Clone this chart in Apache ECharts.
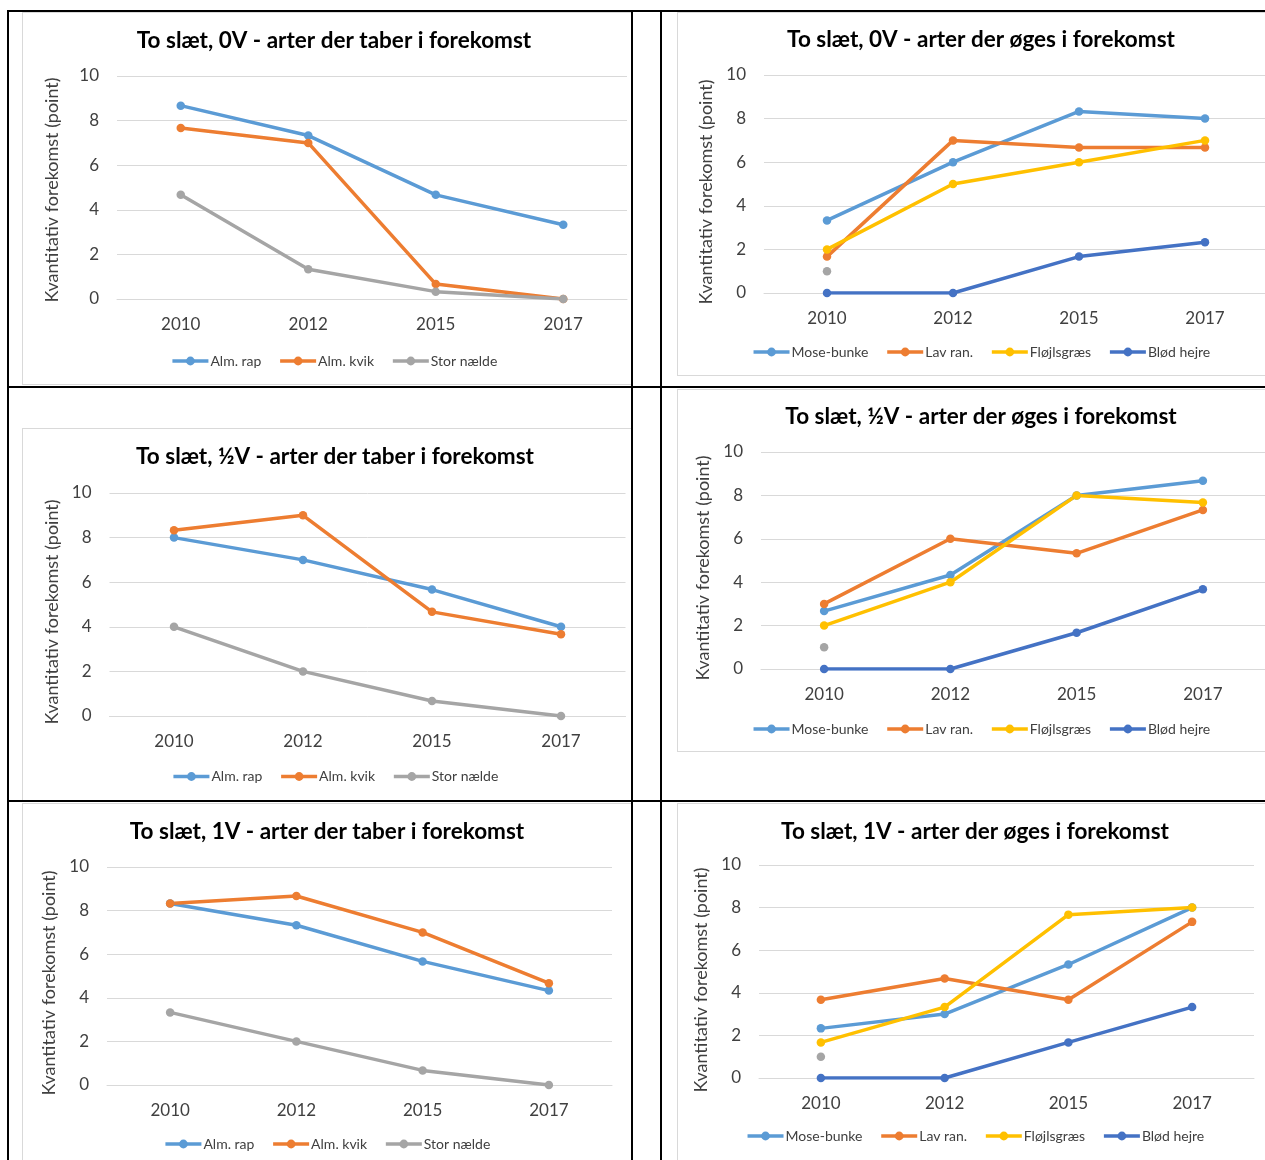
<!DOCTYPE html>
<html>
<head>
<meta charset="utf-8">
<script src="https://cdn.jsdelivr.net/npm/echarts@6/dist/echarts.min.js"></script>
<style>
  html, body { margin: 0; padding: 0; background: #fff; overflow: hidden; }
  #root { position: relative; width: 1265px; height: 1160px; overflow: hidden; background: #fff; }
  .box { position: absolute; border: 1px solid #D9D9D9; box-sizing: border-box; background: #fff; }
  .ln { position: absolute; background: #000; }
  .chart { position: absolute; }
</style>
</head>
<body>
<div id="root"></div>
<script>
// ---------- DATA ----------
const years = ['2010', '2012', '2015', '2017'];
const yMin = 0, yMax = 10, yStep = 2;

const loseNames = ['Alm. rap', 'Alm. kvik', 'Stor nælde'];
const gainNames = ['Mose-bunke', 'Lav ran.', 'Fløjlsgræs', 'Blød hejre'];
const strayName = 'Stor nælde';

const titles = [
  'To slæt, 0V - arter der taber i forekomst',
  'To slæt, 0V - arter der øges i forekomst',
  'To slæt, ½V - arter der taber i forekomst',
  'To slæt, ½V - arter der øges i forekomst',
  'To slæt, 1V - arter der taber i forekomst',
  'To slæt, 1V - arter der øges i forekomst'
];
const yAxisName = 'Kvantitativ forekomst (point)';

// 0V - taber
const v0_almRap    = [8.67, 7.33, 4.67, 3.33];
const v0_almKvik   = [7.67, 7.0, 0.67, 0];
const v0_storNaelde = [4.67, 1.33, 0.33, 0];
// 0V - øges
const v0_moseBunke = [3.33, 6.0, 8.33, 8.0];
const v0_lavRan    = [1.67, 7.0, 6.67, 6.67];
const v0_stray     = [1, null, null, null];
const v0_floejl    = [2.0, 5.0, 6.0, 7.0];
const v0_bloedHejre = [0, 0, 1.67, 2.33];

// ½V - taber
const vh_almRap    = [8.0, 7.0, 5.67, 4.0];
const vh_almKvik   = [8.33, 9.0, 4.67, 3.67];
const vh_storNaelde = [4.0, 2.0, 0.67, 0];
// ½V - øges
const vh_moseBunke = [2.67, 4.33, 8.0, 8.67];
const vh_lavRan    = [3.0, 6.0, 5.33, 7.33];
const vh_stray     = [1, null, null, null];
const vh_floejl    = [2.0, 4.0, 8.0, 7.67];
const vh_bloedHejre = [0, 0, 1.67, 3.67];

// 1V - taber
const v1_almRap    = [8.33, 7.33, 5.67, 4.33];
const v1_almKvik   = [8.33, 8.67, 7.0, 4.67];
const v1_storNaelde = [3.33, 2.0, 0.67, 0];
// 1V - øges
const v1_moseBunke = [2.33, 3.0, 5.33, 8.0];
const v1_lavRan    = [3.67, 4.67, 3.67, 7.33];
const v1_stray     = [1, null, null, null];
const v1_floejl    = [1.67, 3.33, 7.67, 8.0];
const v1_bloedHejre = [0, 0, 1.67, 3.33];

// ---------- STYLE / LAYOUT ----------
const C = { blue: '#5B9BD5', orange: '#ED7D31', gray: '#A5A5A5', yellow: '#FFC000', dblue: '#4472C4' };
const FONT = 'Lato, "Open Sans", sans-serif';

function loseSeries(a, b, c) {
  return [
    { name: loseNames[0], data: a, color: C.blue },
    { name: loseNames[1], data: b, color: C.orange },
    { name: loseNames[2], data: c, color: C.gray }
  ];
}
function gainSeries(a, b, s, c, d) {
  return [
    { name: gainNames[0], data: a, color: C.blue },
    { name: gainNames[1], data: b, color: C.orange },
    { name: strayName, data: s, color: C.gray },
    { name: gainNames[2], data: c, color: C.yellow },
    { name: gainNames[3], data: d, color: C.dblue }
  ];
}

const panels = [
  { title: titles[0], legend: loseNames, series: loseSeries(v0_almRap, v0_almKvik, v0_storNaelde),
    box: [22, 12, 610, 373], pos: [22, 12, 624, 373], grid: [95, 64, 510, 223], gap: 56, shift: 2.5, titleTop: 15, legendTop: 342 },
  { title: titles[1], legend: gainNames, series: gainSeries(v0_moseBunke, v0_lavRan, v0_stray, v0_floejl, v0_bloedHejre),
    box: [677, 12, 620, 364], pos: [677, 12, 608, 364], grid: [87, 63, 504, 218], gap: 46, shift: 8, titleTop: 14, legendTop: 333 },
  { title: titles[2], legend: loseNames, series: loseSeries(vh_almRap, vh_almKvik, vh_storNaelde),
    box: [22, 428, 610, 373], pos: [22, 428, 626, 373], grid: [87.5, 65, 516, 223], gap: 43, shift: 7.5, titleTop: 15, legendTop: 341.5 },
  { title: titles[3], legend: gainNames, series: gainSeries(vh_moseBunke, vh_lavRan, vh_stray, vh_floejl, vh_bloedHejre),
    box: [677, 389, 620, 363], pos: [677, 389, 608, 363], grid: [84, 63, 505, 217], gap: 42, shift: 7.5, titleTop: 14, legendTop: 333 },
  { title: titles[4], legend: loseNames, series: loseSeries(v1_almRap, v1_almKvik, v1_storNaelde),
    box: [22, 803, 610, 380], pos: [22, 803, 610, 357], grid: [85, 64, 505, 218], gap: 42, shift: 7, titleTop: 15, legendTop: 334 },
  { title: titles[5], legend: gainNames, series: gainSeries(v1_moseBunke, v1_lavRan, v1_stray, v1_floejl, v1_bloedHejre),
    box: [677, 803, 620, 380], pos: [677, 803, 596, 357], grid: [82, 62, 495, 213], gap: 41, shift: 8.5, titleTop: 15, legendTop: 326 }
];

const root = document.getElementById('root');
function addDiv(cls, l, t, w, h) {
  const d = document.createElement('div');
  d.className = cls;
  d.style.left = l + 'px'; d.style.top = t + 'px';
  d.style.width = w + 'px'; d.style.height = h + 'px';
  root.appendChild(d);
  return d;
}

// chart area boxes
panels.forEach(p => addDiv('box', p.box[0], p.box[1], p.box[2], p.box[3]));
// table lines
addDiv('ln', 7, 10, 1258, 2);
addDiv('ln', 7, 10, 2, 1150);
addDiv('ln', 631, 10, 2, 1150);
addDiv('ln', 660, 10, 2, 1150);
addDiv('ln', 7, 386, 1258, 2);
addDiv('ln', 7, 800, 1258, 2);

panels.forEach(p => {
  const el = addDiv('chart', p.pos[0], p.pos[1], p.pos[2], p.pos[3]);
  const chart = echarts.init(el, null, { renderer: 'canvas' });
  chart.setOption({
    animation: false,
    backgroundColor: 'transparent',
    textStyle: { fontFamily: FONT },
    title: {
      text: p.title, left: 'center', top: p.titleTop, padding: 0,
      textStyle: { fontFamily: FONT, fontWeight: 'bold', fontSize: 22.5, color: '#000', lineHeight: 27 }
    },
    legend: {
      data: p.legend, left: 'center', top: p.legendTop, padding: 0,
      itemWidth: 36, itemHeight: 11, itemGap: 17,
      lineStyle: { width: 3.5 },
      textStyle: { fontFamily: FONT, fontSize: 14, color: '#404040', padding: [0, 0, 0, -3] }
    },
    grid: { left: p.grid[0], top: p.grid[1], width: p.grid[2], height: p.grid[3], containLabel: false },
    xAxis: {
      type: 'category', data: years, boundaryGap: true,
      axisLine: { show: true, lineStyle: { color: '#D9D9D9', width: 1 } },
      axisTick: { show: false },
      axisLabel: { fontFamily: FONT, fontSize: 17, color: '#404040', margin: 17 }
    },
    yAxis: {
      type: 'value', min: yMin, max: yMax, interval: yStep,
      name: yAxisName, nameLocation: 'middle', nameGap: p.gap, nameRotate: 90,
      nameTextStyle: { fontFamily: FONT, fontSize: 18, color: '#404040', padding: [0, 2 * p.shift, 0, 0] },
      axisLine: { show: false }, axisTick: { show: false },
      splitLine: { lineStyle: { color: '#D9D9D9', width: 1 } },
      axisLabel: { fontFamily: FONT, fontSize: 17, color: '#404040', margin: 18 }
    },
    series: p.series.map(s => ({
      type: 'line', name: s.name, data: s.data,
      symbol: 'circle', symbolSize: 8.5, showSymbol: true,
      connectNulls: false,
      itemStyle: { color: s.color },
      lineStyle: { color: s.color, width: 3.5 },
      emphasis: { disabled: true }
    }))
  });
});
</script>
</body>
</html>
